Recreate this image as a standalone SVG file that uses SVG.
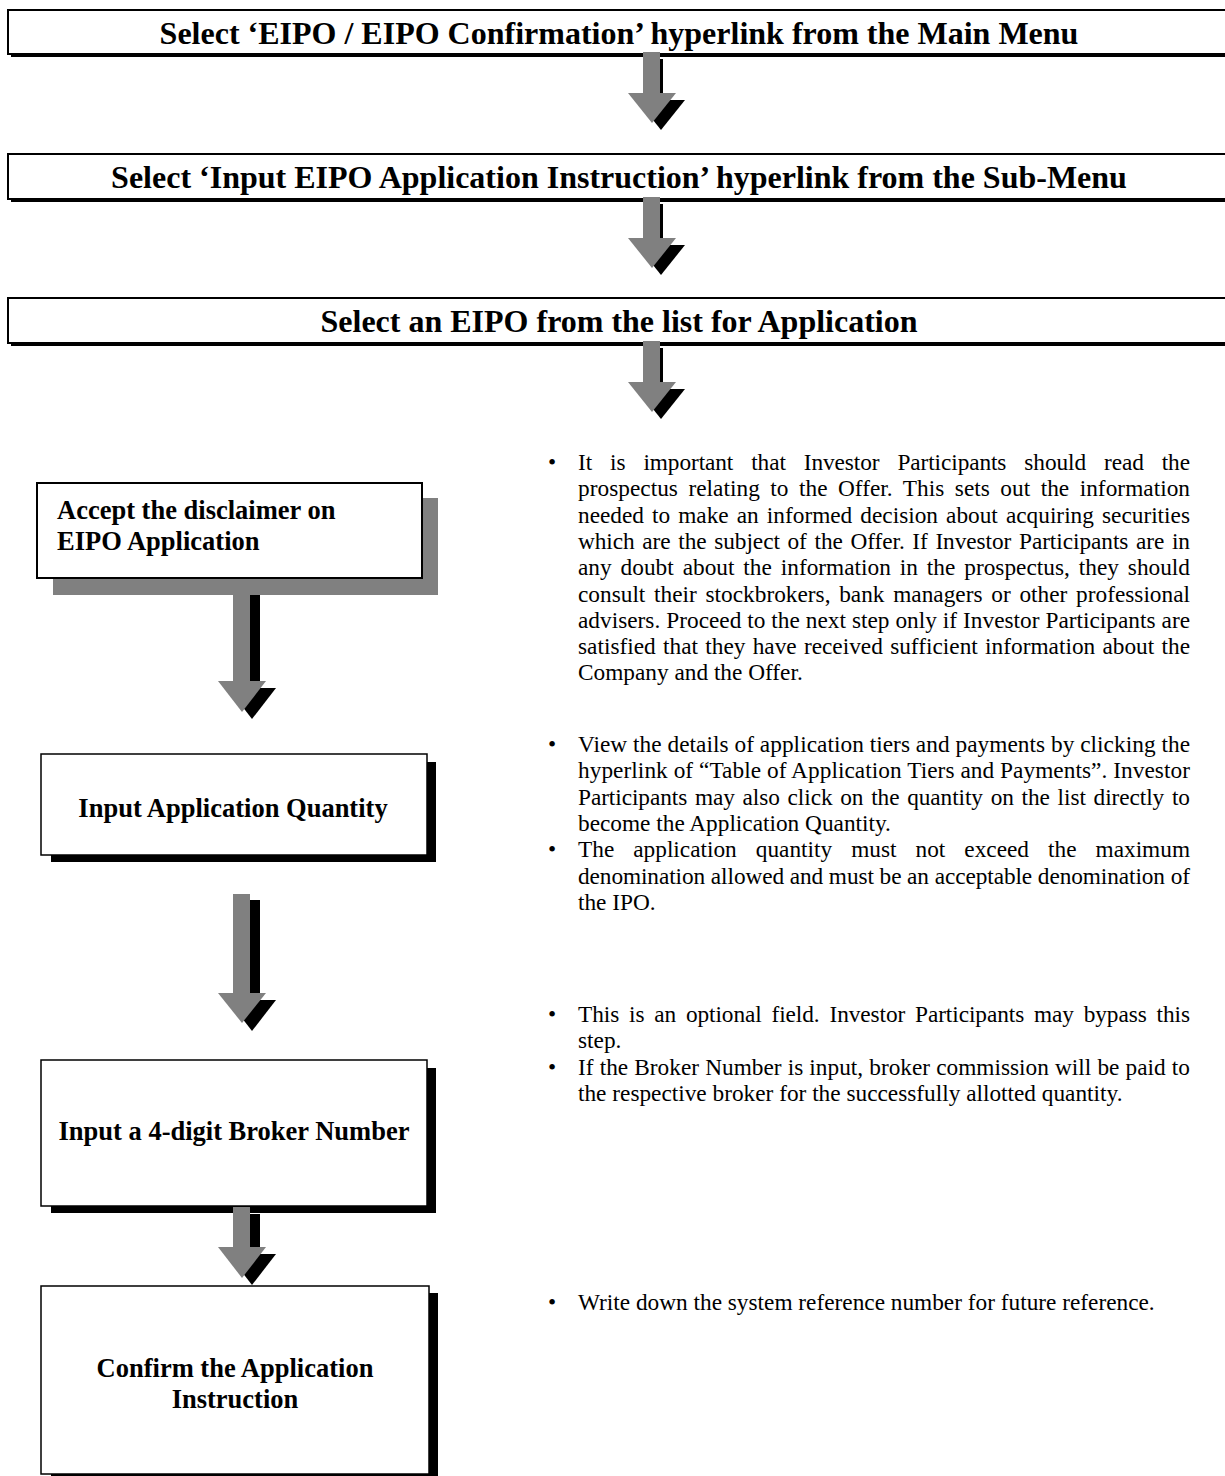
<svg xmlns="http://www.w3.org/2000/svg" width="1225" height="1476" viewBox="0 0 1225 1476">
<style>
.hd{font-family:"Liberation Serif","Times New Roman",serif;font-weight:bold;font-size:32px;fill:#000}
.bx{font-family:"Liberation Serif","Times New Roman",serif;font-weight:bold;font-size:26.5px;fill:#000}
.tx{font-family:"Liberation Serif","Times New Roman",serif;font-size:23.3px;fill:#000}
.barbg{fill:#fff;stroke:#000;stroke-width:2}
.sh{fill:#000}
.gsh{fill:#808080}
.ar{fill:#808080}
.box{fill:#fff;stroke:#000;stroke-width:1.5}
</style>
<rect width="1225" height="1476" fill="#fff"/>

<g id="bar1">
<rect x="11" y="13" width="1240" height="44" class="sh"/>
<rect x="8" y="10" width="1240" height="44" class="barbg"/>
<text x="619" y="44" text-anchor="middle" class="hd">Select ‘EIPO / EIPO Confirmation’ hyperlink from the Main Menu</text>
</g>
<g id="bar2">
<rect x="11" y="157" width="1240" height="45" class="sh"/>
<rect x="8" y="154" width="1240" height="45" class="barbg"/>
<text x="619" y="188" text-anchor="middle" class="hd">Select ‘Input EIPO Application Instruction’ hyperlink from the Sub-Menu</text>
</g>
<g id="bar3">
<rect x="11" y="301" width="1240" height="45" class="sh"/>
<rect x="8" y="298" width="1240" height="45" class="barbg"/>
<text x="619" y="332" text-anchor="middle" class="hd">Select an EIPO from the list for Application</text>
</g>

<g id="box1">
<rect x="53" y="498" width="385" height="97" class="gsh"/>
<rect x="37" y="483" width="385" height="95" fill="#fff" stroke="#000" stroke-width="2"/>
<text x="57" y="519" class="bx">Accept the disclaimer on</text>
<text x="57" y="550" class="bx">EIPO Application</text>
</g>
<g id="box2">
<rect x="51" y="762" width="385" height="100" class="sh"/>
<rect x="41" y="754" width="386" height="101" class="box"/>
<text x="233" y="817" text-anchor="middle" class="bx">Input Application Quantity</text>
</g>
<g id="box3">
<rect x="51" y="1068" width="385" height="145" class="sh"/>
<rect x="41" y="1060" width="386" height="146" class="box"/>
<text x="234" y="1140" text-anchor="middle" class="bx">Input a 4-digit Broker Number</text>
</g>
<g id="box4">
<rect x="51" y="1293" width="387" height="200" class="sh"/>
<rect x="41" y="1286" width="388" height="188" class="box"/>
<text x="235" y="1377" text-anchor="middle" class="bx">Confirm the Application</text>
<text x="235" y="1408" text-anchor="middle" class="bx">Instruction</text>
</g>

<g id="connectors">
<g transform="translate(643,52)">
<rect x="10" y="7" width="10" height="41" fill="#000"/>
<polygon points="-6,48 42,48 18,78" fill="#000"/>
<rect x="0" y="0" width="17" height="41" class="ar"/>
<polygon points="-15,41 33,41 9,71" class="ar"/>
</g>
<g transform="translate(643,197)">
<rect x="10" y="7" width="10" height="41" fill="#000"/>
<polygon points="-6,48 42,48 18,78" fill="#000"/>
<rect x="0" y="0" width="17" height="41" class="ar"/>
<polygon points="-15,41 33,41 9,71" class="ar"/>
</g>
<g transform="translate(643,341)">
<rect x="10" y="7" width="10" height="41" fill="#000"/>
<polygon points="-6,48 42,48 18,78" fill="#000"/>
<rect x="0" y="0" width="17" height="41" class="ar"/>
<polygon points="-15,41 33,41 9,71" class="ar"/>
</g>
<g>
<rect x="250" y="595" width="10" height="93" fill="#000"/>
<polygon points="228,688 276,688 252,719" fill="#000"/>
<rect x="233" y="595" width="17" height="86" class="ar"/>
<polygon points="218,681 266,681 242,712" class="ar"/>
</g>
<g>
<rect x="250" y="900" width="10" height="100" fill="#000"/>
<polygon points="228,1000 276,1000 252,1031" fill="#000"/>
<rect x="233" y="894" width="17" height="99" class="ar"/>
<polygon points="218,993 266,993 242,1023" class="ar"/>
</g>
<g>
<rect x="250" y="1214" width="10" height="40" fill="#000"/>
<polygon points="228,1254 276,1254 252,1285" fill="#000"/>
<rect x="233" y="1207" width="17" height="40" class="ar"/>
<polygon points="218,1247 266,1247 242,1278" class="ar"/>
</g>
</g>

<g id="notes" class="tx">
<text x="548" y="470">•</text>
<text x="578" y="470" style="word-spacing:12.3px" textLength="612" lengthAdjust="spacing">It is important that Investor Participants should read the</text>
<text x="578" y="496.3" style="word-spacing:4.6px" textLength="612" lengthAdjust="spacing">prospectus relating to the Offer. This sets out the information</text>
<text x="578" y="522.6" style="word-spacing:2.25px" textLength="612" lengthAdjust="spacing">needed to make an informed decision about acquiring securities</text>
<text x="578" y="548.9" style="word-spacing:1.9px" textLength="612" lengthAdjust="spacing">which are the subject of the Offer. If Investor Participants are in</text>
<text x="578" y="575.2" style="word-spacing:3.1px" textLength="612" lengthAdjust="spacing">any doubt about the information in the prospectus, they should</text>
<text x="578" y="601.5" style="word-spacing:2.9px" textLength="612" lengthAdjust="spacing">consult their stockbrokers, bank managers or other professional</text>
<text x="578" y="627.8" style="word-spacing:0.1px" textLength="612" lengthAdjust="spacing">advisers. Proceed to the next step only if Investor Participants are</text>
<text x="578" y="654.1" style="word-spacing:1.4px" textLength="612" lengthAdjust="spacing">satisfied that they have received sufficient information about the</text>
<text x="578" y="680.4">Company and the Offer.</text>

<text x="548" y="752">•</text>
<text x="578" y="752" textLength="612" lengthAdjust="spacing">View the details of application tiers and payments by clicking the</text>
<text x="578" y="778.3" textLength="612" lengthAdjust="spacing">hyperlink of “Table of Application Tiers and Payments”. Investor</text>
<text x="578" y="804.6" style="word-spacing:2px" textLength="612" lengthAdjust="spacing">Participants may also click on the quantity on the list directly to</text>
<text x="578" y="830.9">become the Application Quantity.</text>
<text x="548" y="857.2">•</text>
<text x="578" y="857.2" style="word-spacing:13.2px" textLength="612" lengthAdjust="spacing">The application quantity must not exceed the maximum</text>
<text x="578" y="883.5" textLength="612" lengthAdjust="spacing">denomination allowed and must be an acceptable denomination of</text>
<text x="578" y="909.8">the IPO.</text>

<text x="548" y="1022">•</text>
<text x="578" y="1022" style="word-spacing:4.1px" textLength="612" lengthAdjust="spacing">This is an optional field. Investor Participants may bypass this</text>
<text x="578" y="1048.3">step.</text>
<text x="548" y="1074.6">•</text>
<text x="578" y="1074.6" style="word-spacing:0.3px" textLength="612" lengthAdjust="spacing">If the Broker Number is input, broker commission will be paid to</text>
<text x="578" y="1100.9">the respective broker for the successfully allotted quantity.</text>

<text x="548" y="1310">•</text>
<text x="578" y="1310">Write down the system reference number for future reference.</text>
</g>
</svg>
